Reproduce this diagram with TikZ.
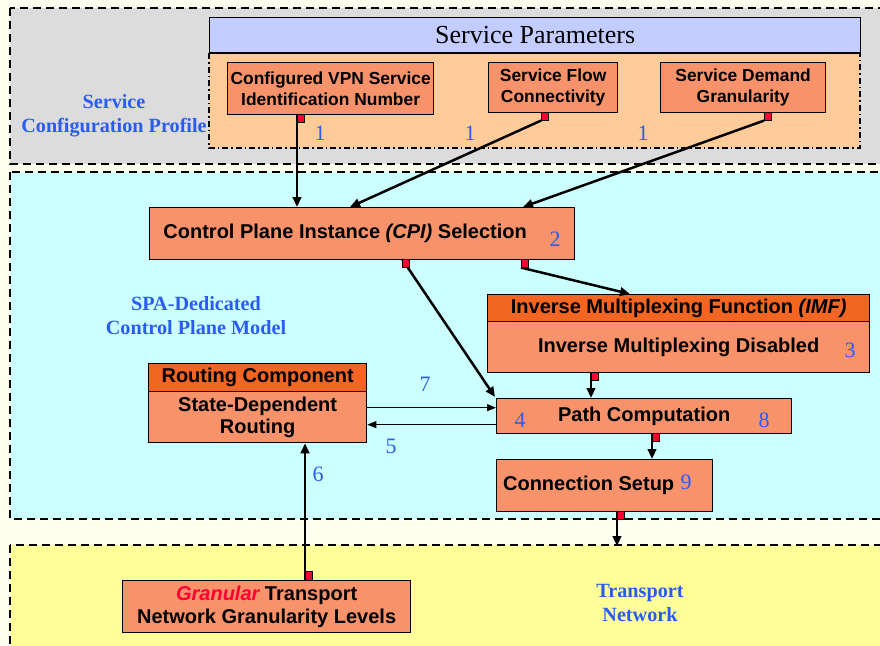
\documentclass[tikz,border=0pt]{standalone}
\usepackage{fontspec}
\setmainfont{Liberation Serif}
\setsansfont{Liberation Sans}
\usetikzlibrary{arrows.meta,calc}
\definecolor{cream}{HTML}{FFFFF0}
\definecolor{grayreg}{HTML}{DCDCDC}
\definecolor{cyanreg}{HTML}{CCFFFF}
\definecolor{yellowreg}{HTML}{FFFF99}
\definecolor{hdrblue}{HTML}{C3CDFF}
\definecolor{lorange}{HTML}{FFCC99}
\definecolor{salmon}{HTML}{F7926A}
\definecolor{dorange}{HTML}{F26522}
\definecolor{lblblue}{HTML}{2A5CF2}
\definecolor{sqred}{HTML}{FF0033}
\tikzset{
  region/.style={draw=black, line width=2pt, dash pattern=on 8pt off 5pt},
  box/.style={draw=black, line width=1.3pt, fill=salmon, inner sep=0pt, anchor=north west},
  hdr/.style={box, fill=dorange},
  btext/.style={font=\sffamily\bfseries\fontsize{20}{22.5}\selectfont, align=center, inner sep=0pt},
  stext/.style={font=\sffamily\bfseries\fontsize{17.4}{21.5}\selectfont, align=center, inner sep=0pt},
  num/.style={font=\fontsize{22}{22}\selectfont, text=lblblue, inner sep=0pt},
  blbl/.style={font=\bfseries\fontsize{20.2}{24}\selectfont, text=lblblue, align=center, inner sep=0pt},
  sq/.style={draw=black, line width=0.6pt, fill=sqred, minimum width=7pt, minimum height=8pt, inner sep=0pt},
  arr/.style={draw=black, line width=2.5pt, -{Triangle[length=10pt,width=8.5pt]}},
  tarr/.style={draw=black, line width=1pt, -{Triangle[length=9pt,width=7pt]}}
}
\begin{document}
\begin{tikzpicture}[x=1pt,y=-1pt]
\useasboundingbox (0,0) rectangle (880,645);
\begin{scope}
\clip (0,0) rectangle (880,645);
\fill[cream] (0,0) rectangle (880,645);
% regions
\filldraw[region, fill=grayreg] (10,8) rectangle (890,164);
\filldraw[region, fill=cyanreg] (10,172) rectangle (890,519);
\filldraw[region, fill=yellowreg] (10,545) rectangle (890,660);
\end{scope}
% service parameters
\node[draw=black, line width=1.3pt, fill=hdrblue, minimum width=651pt, minimum height=35pt, anchor=north west, inner sep=0pt,
  font=\fontsize{26}{26}\selectfont] (sp) at (209,17) {Service Parameters};
\filldraw[fill=lorange, draw=black, line width=1.5pt, dash pattern=on 6pt off 3pt on 1.5pt off 3pt] (sp.south west) rectangle (860,148);
\draw[line width=1.3pt] (sp.south west) -- (sp.south east);
% blue labels
\node[blbl] (scp) at (114,116) {Service\\Configuration Profile};
\node[blbl] (spa) at (196,316) {SPA-Dedicated\\Control Plane Model};
\node[blbl] (tnl) at (640,603) {Transport\\Network};
% top boxes
\node[box, minimum width=206pt, minimum height=52pt] (vpn) at (227,62) {};
\node[stext] (vpnt) at (vpn.center) {Configured VPN Service\\Identification Number};
\node[box, minimum width=129pt, minimum height=50pt] (flow) at (488,62) {};
\node[stext] (flowt) at (flow.center) {Service Flow\\Connectivity};
\node[box, minimum width=165pt, minimum height=50pt] (dem) at (660,62) {};
\node[stext] (demt) at (dem.center) {Service Demand\\Granularity};
% CPI
\node[box, minimum width=425pt, minimum height=52pt] (cpi) at (149,207) {};
\node[btext] (cpit) at ($(cpi.center)+(-17,0)$) {Control Plane Instance \textit{(CPI)} Selection};
% IMF
\node[hdr, minimum width=382pt, minimum height=27pt] (imfh) at (487,294) {};
\node[btext] (imfht) at (imfh.center) {Inverse Multiplexing Function \textit{(IMF)}};
\node[box, minimum width=382pt, minimum height=51pt] (imfb) at (487,321) {};
\node[btext] (imfbt) at (imfb.center) {Inverse Multiplexing Disabled};
% Routing
\node[hdr, minimum width=218pt, minimum height=28pt] (rth) at (148,363) {};
\node[btext] (rtht) at (rth.center) {Routing Component};
\node[box, minimum width=218pt, minimum height=51pt] (rtb) at (148,391) {};
\node[btext] (rtbt) at (rtb.center) {State-Dependent\\Routing};
% Path computation
\node[box, minimum width=295pt, minimum height=35pt] (path) at (496,398) {};
\node[btext] (patht) at (path.center) {Path Computation};
% Connection setup
\node[box, minimum width=216pt, minimum height=52pt] (conn) at (496,459) {};
\node[btext] (connt) at ($(conn.center)+(-16,0)$) {Connection Setup};
% Granular
\node[box, minimum width=288pt, minimum height=52pt] (gran) at (122,580) {};
\node[btext] (grant) at (gran.center) {{\color{sqred}\itshape Granular} Transport\\Network Granularity Levels};
% numbers
\node[num] (n1a) at (320,133) {1};
\node[num] (n1b) at (470,133) {1};
\node[num] (n1c) at (643,133) {1};
\node[num] (n2) at (555,239) {2};
\node[num] (n3) at (850,350) {3};
\node[num] (n4) at (520,420) {4};
\node[num] (n8) at (764,420) {8};
\node[num] (n9) at (686,482) {9};
\node[num] (n7) at (425,384) {7};
\node[num] (n5) at (391,446) {5};
\node[num] (n6) at (318,474) {6};
% squares
\node[sq, anchor=north west] (sqvpn) at (297,114) {};
\node[sq, anchor=north west] (sqflow) at (541,112) {};
\node[sq, anchor=north west] (sqdem) at (764,112) {};
\node[sq, anchor=north west] (sqc1) at (402,259) {};
\node[sq, anchor=north west] (sqc2) at (521,259) {};
\node[sq, anchor=north west] (sqimf) at (591,372) {};
\node[sq, anchor=north west] (sqpath) at (652,433) {};
\node[sq, anchor=north west] (sqconn) at (617,511) {};
\node[sq, anchor=south west] (sqgran) at (305,580) {};
\coordinate (tn) at (617,546);
% connectors
\draw[arr] (sqvpn.north west) -- (sqvpn.north west |- cpi.north);
\draw[arr] (sqflow.south west) -- ($(cpi.north west)+(201,0)$);
\draw[arr] (sqdem.south west) -- ($(cpi.north west)+(374,0)$);
\draw[arr] (sqc1.north west) -- ($(path.north west)+(-1,-1)$);
\draw[arr] (sqc2.south west) -- ($(imfh.north west)+(143,0)$);
\draw[arr] (sqimf.north west) -- (sqimf.north west |- path.north);
\draw[arr] (sqpath.north west) -- (sqpath.north west |- conn.north);
\draw[arr] (sqconn.north west) -- (sqconn.north west |- tn);
\draw[arr] (sqgran.south west) -- (sqgran.south west |- rtb.south);
\draw[tarr] ([yshift=9.5pt]rtb.east) -- ([yshift=9.5pt]rtb.east -| path.west);
\draw[tarr] ([yshift=-7.5pt]rtb.east -| path.west) -- ([yshift=-7.5pt]rtb.east);
% redraw squares on top
\foreach \s in {sqvpn,sqflow,sqdem,sqc1,sqc2,sqimf,sqpath,sqconn,sqgran}{
  \filldraw[fill=sqred, draw=black, line width=0.6pt] (\s.south west) rectangle (\s.north east);
}
\end{tikzpicture}
\end{document}
